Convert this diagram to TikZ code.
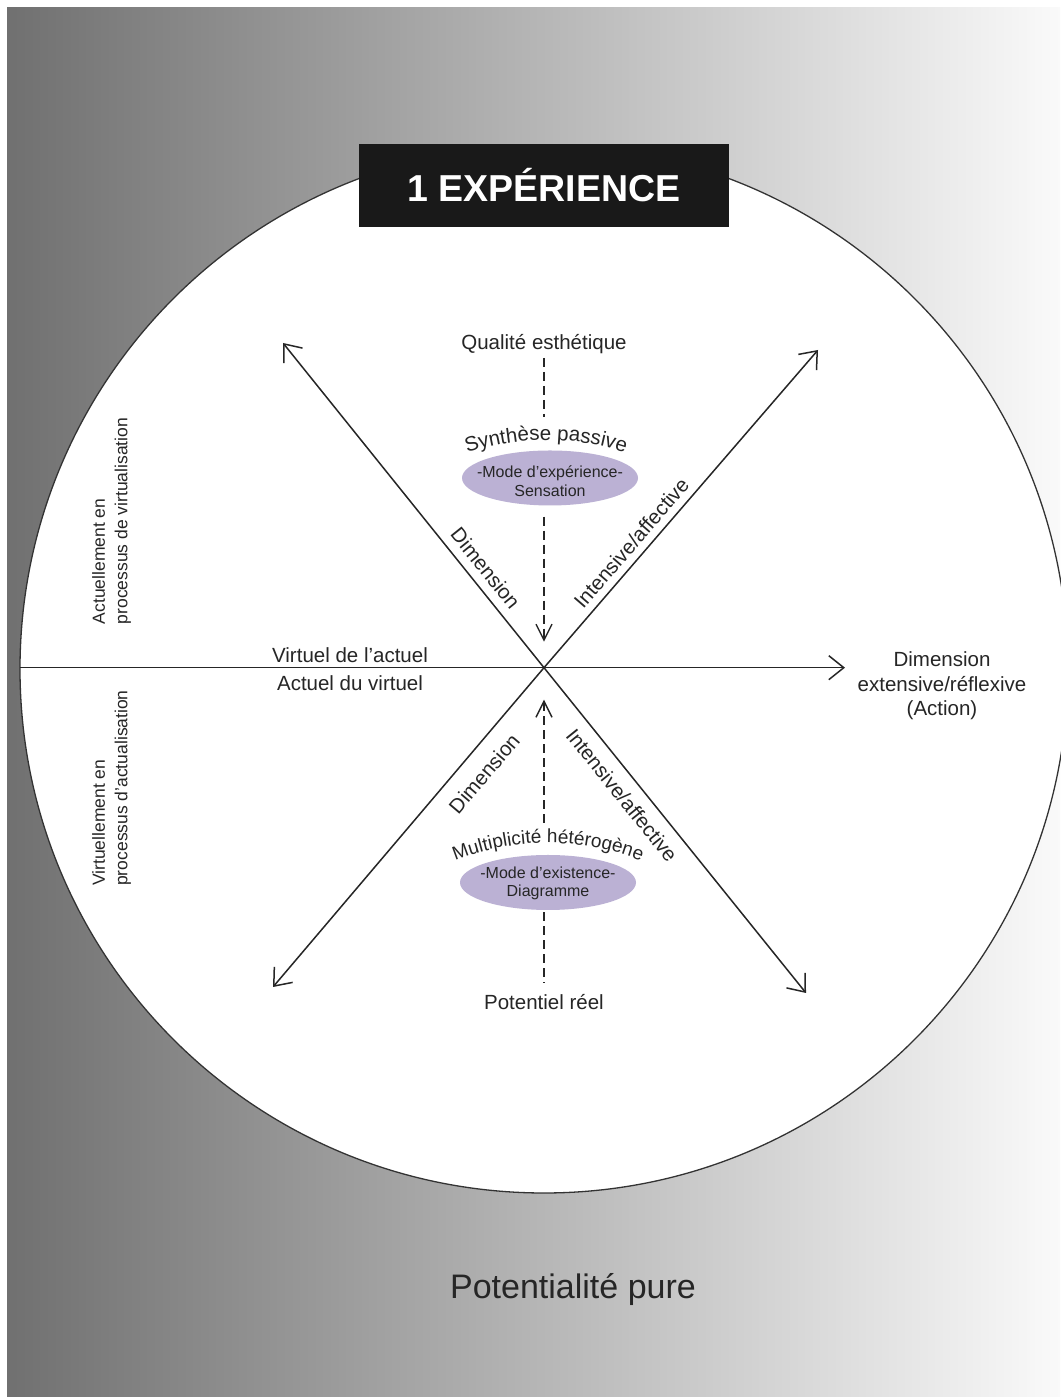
\documentclass[tikz,border=0pt]{standalone}
\usepackage{fontspec}
\setmainfont{Liberation Sans}
\usepackage{tikz}
\usetikzlibrary{arrows.meta, positioning, shapes.geometric, decorations.text, calc}
\usepackage{xcolor}
\definecolor{mauve}{RGB}{187,177,212}
\newcommand{\lblfont}{\fontsize{20.5}{24.5}\selectfont}
\newcommand{\arcfont}{\fontsize{19}{22}\selectfont}

\begin{document}
\begin{tikzpicture}[
  x=1pt, y=1pt,
  txt/.style={font=\lblfont, text=black!85, inner sep=2pt},
  sidetxt/.style={font=\fontsize{17.5}{22.5}\selectfont, text=black!85, align=left, rotate=90, inner sep=2pt},
  diagtxt/.style={txt, sloped},
  bubble/.style={ellipse, fill=mauve, minimum width=176pt, minimum height=55pt, inner sep=0pt},
  bubbletxt/.style={align=center, font=\fontsize{16}{18.5}\selectfont, text=black!85, inner sep=0pt},
  titlebox/.style={rectangle, fill=black!90, text=white, minimum width=370pt, minimum height=83pt, font=\fontsize{37.5}{40}\selectfont\bfseries},
  axisline/.style={draw=black!85, line width=1.5pt},
  dashline/.style={draw=black!85, line width=1.4pt, dash pattern=on 9pt off 5pt},
  bigbarb/.tip={Straight Barb[length=15pt, width=24pt]},
  smallbarb/.tip={Straight Barb[length=16pt, width=16pt]},
  curvedtxt/.style={decorate, decoration={text along path, text align=center, text color=black!85}}
]
  % Page, grey field and circle
  \useasboundingbox (0,0) rectangle (1060,1397);
  \fill[white] (0,0) rectangle (1060,1397);
  \shade[left color=black!56, right color=black!2] (7,0) rectangle (1060,1389);
  \draw[draw=black!80, line width=1.3pt, fill=white] (544,728) circle[radius=524];

  % Title
  \node[titlebox] (title) at (544,1211.5) {1 EXPÉRIENCE};

  % Axis end points
  \coordinate (o) at (544,729.3);
  \coordinate (west) at (20,729.3);
  \coordinate (east) at (845,729.3);
  \coordinate (ul) at (283,1054);
  \coordinate (ur) at (818,1047);
  \coordinate (ll) at (273,410);
  \coordinate (lr) at (806,404);

  % Axes
  \draw[axisline, -bigbarb] (west) -- (east);
  \draw[axisline, bigbarb-] (ul) -- (o) node[diagtxt, pos=0.726, above=6.6pt] {Dimension};
  \draw[axisline, -bigbarb] (o) -- (ur) node[diagtxt, pos=0.361, above=5pt] {Intensive/affective};
  \draw[axisline, bigbarb-] (ll) -- (o) node[diagtxt, pos=0.715, below=12.6pt] {Dimension};
  \draw[axisline, -bigbarb] (o) -- (lr) node[diagtxt, pos=0.355, below=9pt] {Intensive/affective};

  % Axis labels
  \node[txt] (virtact) at (350,742) {Virtuel de l’actuel};
  \node[txt, below=9pt of virtact] (actvirt) {Actuel du virtuel};
  \node[txt, align=center] (extensive) at (942,711) {Dimension\\extensive/réflexive\\(Action)};
  \node[sidetxt] (virtualising) at (111.5,876) {Actuellement en\\processus de virtualisation};
  \node[sidetxt] (actualising) at (111.5,609) {Virtuellement en\\processus d’actualisation};

  % Upper mode
  \node[txt] (quality) at (544,1053) {Qualité esthétique};
  \node[bubble] (sensation) at (550,919) {};
  \node[bubbletxt] (sensationtxt) at ([yshift=-3pt]sensation.center) {-Mode d’expérience-\\Sensation};
  \path[curvedtxt, decoration={text={|\lblfont|Synthèse passive}}] (546,707) ++(125:250) arc[start angle=125, end angle=55, radius=250];
  \draw[dashline, shorten <=2pt, shorten >=33pt] (quality.south) -- (quality.south |- sensation.north);
  \draw[dashline, -smallbarb, shorten <=11pt, shorten >=26pt] (sensation.south -| o) -- (o);

  % Lower mode
  \node[txt] (potential) at (544,395) {Potentiel réel};
  \node[bubble] (diagram) at (548,514.5) {};
  \node[bubbletxt] (diagramtxt) at ([yshift=-1pt]diagram.center) {-Mode d’existence-\\Diagramme};
  \path[curvedtxt, decoration={text={|\arcfont|Multiplicité hétérogène}}] (548,304) ++(125:250) arc[start angle=125, end angle=55, radius=250];
  \draw[dashline, -smallbarb, shorten <=32pt, shorten >=32pt] (diagram.north -| o) -- (o);
  \draw[dashline, shorten <=2pt, shorten >=9pt] (diagram.south -| o) -- (potential.north);

  % Outer field
  \node[txt, font=\fontsize{34}{40}\selectfont] (pure) at (573,107) {Potentialité pure};
\end{tikzpicture}
\end{document}
